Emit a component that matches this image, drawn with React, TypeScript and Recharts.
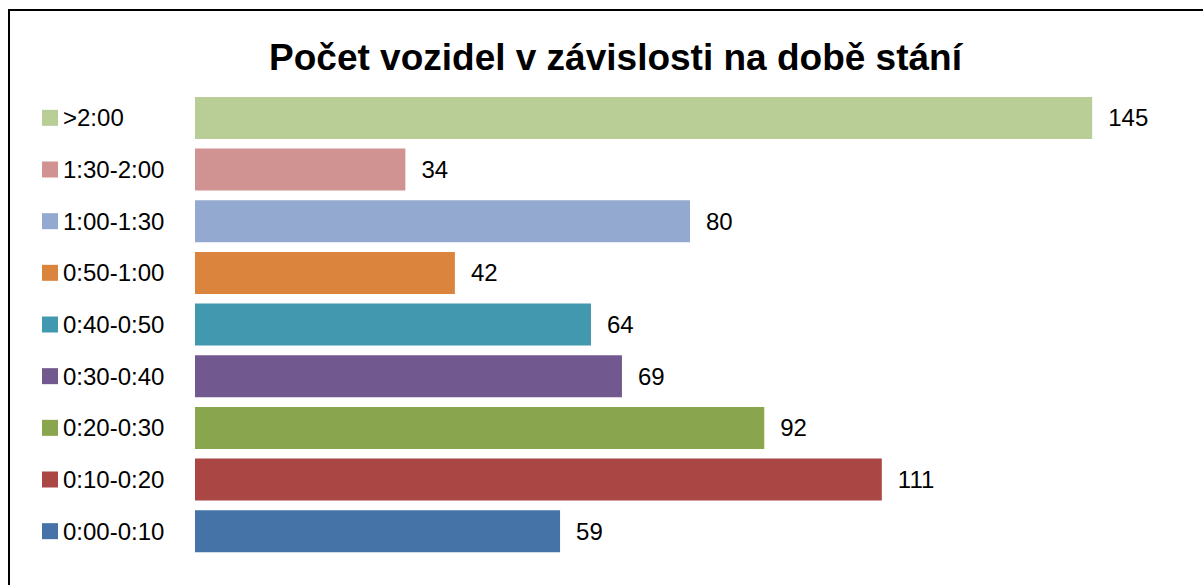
import React from 'react';
import { BarChart, Bar, XAxis, YAxis, Cell, LabelList } from 'recharts';

const categories = [
  '0:00-0:10',
  '0:10-0:20',
  '0:20-0:30',
  '0:30-0:40',
  '0:40-0:50',
  '0:50-1:00',
  '1:00-1:30',
  '1:30-2:00',
  '>2:00',
];
const vehicleCounts = [59, 111, 92, 69, 64, 42, 80, 34, 145];
const barColors = [
  '#4572A7',
  '#AA4643',
  '#89A54E',
  '#71588F',
  '#4198AF',
  '#DB843D',
  '#93A9CF',
  '#D19392',
  '#B9CD96',
];
const chartTitle = 'Počet vozidel v závislosti na době stání';

const FONT = '"Liberation Sans", Arial, sans-serif';

// Excel puts the first category at the bottom; recharts puts it on top, so flip the order
const data = categories
  .map((name, i) => ({ name, value: vehicleCounts[i], color: barColors[i] }))
  .reverse();

function LegendTick(props: any) {
  const { y, payload } = props;
  const idx = categories.indexOf(payload.value);
  return (
    <g>
      <rect x={42} y={y - 8} width={16} height={16} fill={barColors[idx]} />
      <text
        x={63}
        y={y}
        dominantBaseline="central"
        fontFamily={FONT}
        fontSize={24}
        fill="#000"
      >
        {payload.value}
      </text>
    </g>
  );
}

export default function App() {
  return (
    <div style={{ position: 'relative', width: 1203, height: 585, overflow: 'hidden', background: '#fff' }}>
      <style>{'body{margin:0}'}</style>
      <div
        style={{
          position: 'absolute',
          left: 8,
          top: 9,
          width: 1220,
          height: 620,
          border: '2px solid #000',
          boxSizing: 'border-box',
        }}
      />
      <div
        style={{
          position: 'absolute',
          left: 0,
          top: 37,
          width: 1231,
          textAlign: 'center',
          fontFamily: FONT,
          fontWeight: 'bold',
          fontSize: 37,
          lineHeight: '42px',
          color: '#000',
        }}
      >
        {chartTitle}
      </div>
      <div style={{ position: 'absolute', left: 0, top: 0 }}>
        <BarChart
          width={1203}
          height={585}
          data={data}
          layout="vertical"
          margin={{ top: 92, right: 18, bottom: 28, left: 0 }}
          barCategoryGap="9.5%"
        >
          <XAxis type="number" domain={[0, 160]} hide />
          <YAxis
            type="category"
            dataKey="name"
            width={195}
            axisLine={false}
            tickLine={false}
            tick={<LegendTick />}
            interval={0}
          />
          <Bar dataKey="value" isAnimationActive={false}>
            {data.map((d) => (
              <Cell key={d.name} fill={d.color} />
            ))}
            <LabelList
              dataKey="value"
              position="right"
              offset={16}
              fontFamily={FONT}
              fontSize={24}
              fill="#000"
            />
          </Bar>
        </BarChart>
      </div>
    </div>
  );
}
